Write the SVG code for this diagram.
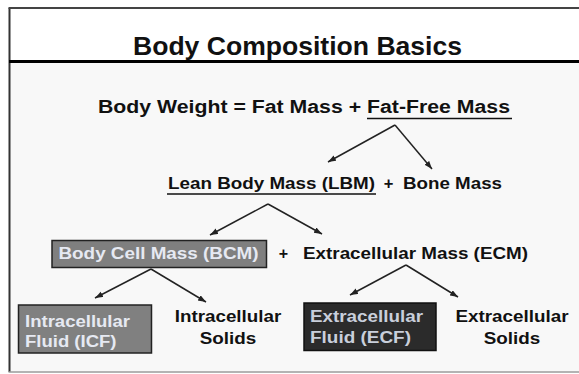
<svg xmlns="http://www.w3.org/2000/svg" width="579" height="374" viewBox="0 0 579 374">
<style>
.t{font-family:"Liberation Sans",Arial,sans-serif;font-weight:bold;fill:#111;}
.w{font-family:"Liberation Sans",Arial,sans-serif;font-weight:bold;fill:#e6e9f2;}
.wd{font-family:"Liberation Sans",Arial,sans-serif;font-weight:bold;fill:#c9cfdb;}
.ul{stroke:#111;stroke-width:1.6;}
.con{stroke:#222;stroke-width:1.5;fill:none;marker-end:url(#ah);}
</style>
<defs>
<marker id="ah" markerUnits="userSpaceOnUse" markerWidth="9" markerHeight="7" refX="8" refY="3" orient="auto">
<path d="M0,0 L8,3 L0,6 z" fill="#222"/>
</marker>
</defs>
<rect x="0" y="0" width="579" height="374" fill="#ffffff"/>
<rect x="10" y="9" width="569" height="53" fill="#ffffff"/>
<rect x="10" y="62" width="569" height="309" fill="#f8f8f8"/>
<g id="frame">
<line x1="9.5" y1="8" x2="9.5" y2="372" stroke="#333" stroke-width="2"/>
<line x1="8.5" y1="8" x2="579" y2="8" stroke="#444" stroke-width="2"/>
<line x1="8.5" y1="372" x2="579" y2="372" stroke="#9a9a9a" stroke-width="1.5"/>
<line x1="9" y1="61.5" x2="579" y2="61.5" stroke="#000" stroke-width="3"/>
</g>
<g id="title">
<text class="t" x="133" y="55" font-size="25" textLength="329" lengthAdjust="spacingAndGlyphs">Body Composition Basics</text>
</g>
<g id="body-weight">
<text class="t" x="98" y="113" font-size="17.5" textLength="412" lengthAdjust="spacingAndGlyphs">Body Weight = Fat Mass + Fat-Free Mass</text>
<line class="ul" x1="367" y1="118.5" x2="512" y2="118.5"/>
</g>
<g id="lbm">
<text class="t" x="168" y="188.5" font-size="16.5" textLength="207" lengthAdjust="spacingAndGlyphs">Lean Body Mass (LBM)</text>
<line class="ul" x1="167" y1="194" x2="376" y2="194"/>
</g>
<g id="plus1">
<text class="t" x="388.5" y="188.5" font-size="16.5" text-anchor="middle">+</text>
</g>
<g id="bone">
<text class="t" x="403" y="188.5" font-size="16.5" textLength="99" lengthAdjust="spacingAndGlyphs">Bone Mass</text>
</g>
<g id="bcm">
<rect x="52" y="240.5" width="214.5" height="27" fill="#7f7f7f" stroke="#222" stroke-width="1.5"/>
<text class="w" x="58.5" y="259" font-size="16" textLength="200" lengthAdjust="spacingAndGlyphs">Body Cell Mass (BCM)</text>
</g>
<g id="plus2">
<text class="t" x="283.5" y="259" font-size="16" text-anchor="middle">+</text>
</g>
<g id="ecm">
<text class="t" x="303" y="259" font-size="16" textLength="225" lengthAdjust="spacingAndGlyphs">Extracellular Mass (ECM)</text>
</g>
<g id="icf">
<rect x="18.5" y="305" width="133" height="48" fill="#808080" stroke="#222" stroke-width="1.5"/>
<text class="w" x="25" y="327" font-size="16" textLength="105" lengthAdjust="spacingAndGlyphs">Intracellular</text>
<text class="w" x="25" y="346.5" font-size="16" textLength="91.5" lengthAdjust="spacingAndGlyphs">Fluid (ICF)</text>
</g>
<g id="ics">
<text class="t" x="228" y="322" font-size="16" text-anchor="middle" textLength="106.5" lengthAdjust="spacingAndGlyphs">Intracellular</text>
<text class="t" x="228" y="344" font-size="16" text-anchor="middle" textLength="56.5" lengthAdjust="spacingAndGlyphs">Solids</text>
</g>
<g id="ecf">
<rect x="304" y="303" width="132" height="47.5" fill="#2b2b2b" stroke="#111" stroke-width="1.5"/>
<text class="wd" x="310" y="321.5" font-size="16" textLength="113" lengthAdjust="spacingAndGlyphs">Extracellular</text>
<text class="wd" x="310" y="343" font-size="16" textLength="101" lengthAdjust="spacingAndGlyphs">Fluid (ECF)</text>
</g>
<g id="ecs">
<text class="t" x="512" y="321.5" font-size="16" text-anchor="middle" textLength="113" lengthAdjust="spacingAndGlyphs">Extracellular</text>
<text class="t" x="512" y="343.5" font-size="16" text-anchor="middle" textLength="56.5" lengthAdjust="spacingAndGlyphs">Solids</text>
</g>
<g id="connectors">
<line class="con" x1="395" y1="125" x2="328" y2="162"/>
<line class="con" x1="395" y1="125" x2="432" y2="169"/>
<line class="con" x1="268" y1="204" x2="210" y2="235"/>
<line class="con" x1="268" y1="204" x2="322" y2="234"/>
<line class="con" x1="151" y1="269" x2="95" y2="298"/>
<line class="con" x1="151" y1="269" x2="206" y2="302"/>
<line class="con" x1="406" y1="265" x2="350" y2="295"/>
<line class="con" x1="406" y1="265" x2="458" y2="297"/>
</g>
</svg>
